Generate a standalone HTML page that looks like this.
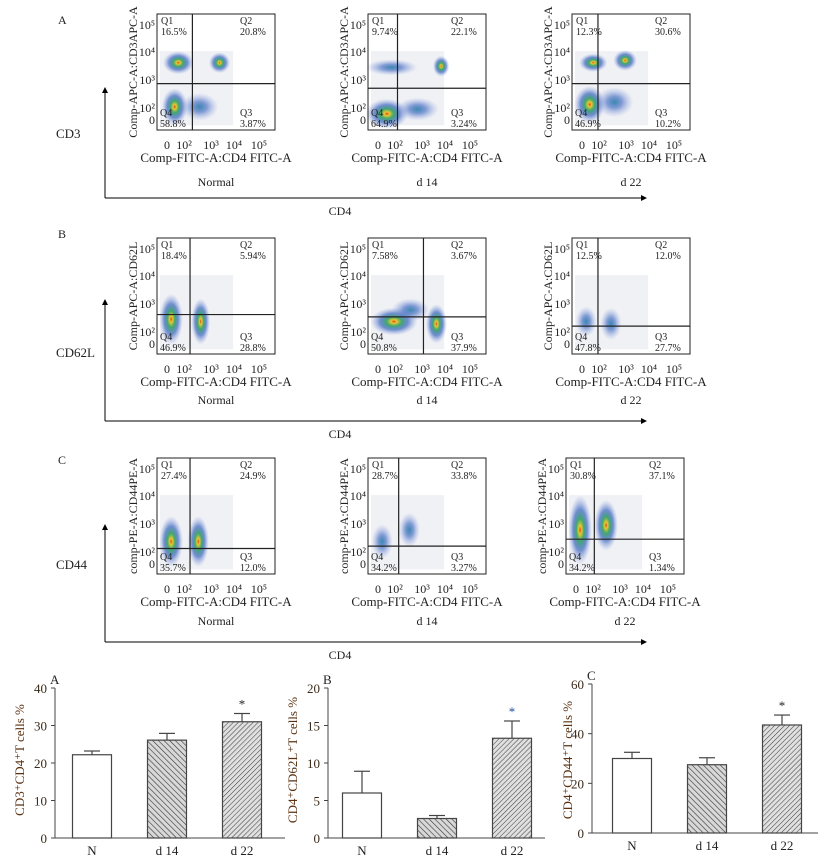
<!DOCTYPE html>
<html><head><meta charset="utf-8"><style>
body{margin:0;background:#fff;}
svg text{font-family:"Liberation Serif",serif;}
</style></head><body>
<svg id="fig" width="828" height="861" viewBox="0 0 828 861" xmlns="http://www.w3.org/2000/svg">
<defs>
<radialGradient id="blob" cx="50%" cy="50%" r="50%">
<stop offset="0%" stop-color="#e04020"/>
<stop offset="12%" stop-color="#e8c830"/>
<stop offset="32%" stop-color="#40a870"/>
<stop offset="60%" stop-color="#3a64c0" stop-opacity="0.7"/>
<stop offset="100%" stop-color="#8aa0dc" stop-opacity="0"/>
</radialGradient>
<radialGradient id="blobLow" cx="50%" cy="50%" r="50%">
<stop offset="0%" stop-color="#3a8ab0"/>
<stop offset="40%" stop-color="#3a64c0" stop-opacity="0.6"/>
<stop offset="100%" stop-color="#8aa0dc" stop-opacity="0"/>
</radialGradient>
<pattern id="hatchBack" width="4" height="4" patternUnits="userSpaceOnUse" patternTransform="rotate(-45)">
<rect width="4" height="4" fill="#d8d8d8"/><line x1="0" y1="0" x2="0" y2="4" stroke="#333" stroke-width="1.2"/>
</pattern>
<pattern id="hatchFwd" width="3.5" height="3.5" patternUnits="userSpaceOnUse" patternTransform="rotate(45)">
<rect width="4" height="4" fill="#e0e0e0"/><line x1="0" y1="0" x2="0" y2="4" stroke="#444" stroke-width="1.1"/>
</pattern>
<marker id="arr" markerWidth="6" markerHeight="6" refX="5" refY="3" orient="auto"><path d="M0,0 L6,3 L0,6 z" fill="#000"/></marker>
</defs>
</svg>
<script>
const NS="http://www.w3.org/2000/svg";
const svg=document.getElementById('fig');
function mk(tag,attrs,parent,text){const e=document.createElementNS(NS,tag);for(const k in attrs)e.setAttribute(k,attrs[k]);if(text!==undefined)e.textContent=text;(parent||svg).appendChild(e);return e;}

// ---------- Flow plots ----------
const plotLefts=[[157,368,572],[157,368,572],[157,368,566]];
const rowTops=[14,238,458];
const groupNames=['Normal','d 14','d 22'];
const yLabels=['Comp-APC-A:CD3APC-A','Comp-APC-A:CD62L','comp-PE-A:CD44PE-A'];
const quadVals=[
 [['16.5%','20.8%','3.87%','58.8%'],['9.74%','22.1%','3.24%','64.9%'],['12.3%','30.6%','10.2%','46.9%']],
 [['18.4%','5.94%','28.8%','46.9%'],['7.58%','3.67%','37.9%','50.8%'],['12.5%','12.0%','27.7%','47.8%']],
 [['27.4%','24.9%','12.0%','35.7%'],['28.7%','33.8%','3.27%','34.2%'],['30.8%','37.1%','1.34%','34.2%']]
];
const gates=[
 [[0.30,0.60],[0.25,0.64],[0.22,0.60]],
 [[0.28,0.66],[0.47,0.68],[0.22,0.76]],
 [[0.28,0.78],[0.26,0.76],[0.24,0.70]]
];
const clusters=[
 [[[0.18,0.42,0.13,0.10,1],[0.53,0.42,0.09,0.09,1],[0.15,0.80,0.11,0.16,1],[0.36,0.80,0.16,0.12,0]],
  [[0.20,0.46,0.22,0.07,0],[0.62,0.45,0.07,0.09,1],[0.16,0.86,0.18,0.13,1],[0.42,0.82,0.18,0.10,0]],
  [[0.18,0.42,0.12,0.08,1],[0.45,0.40,0.10,0.09,1],[0.15,0.78,0.13,0.16,1],[0.36,0.76,0.16,0.13,0]]],
 [[[0.12,0.70,0.10,0.22,1],[0.37,0.72,0.08,0.20,1]],
  [[0.22,0.72,0.20,0.12,1],[0.36,0.62,0.16,0.10,0],[0.58,0.74,0.09,0.17,1]],
  [[0.12,0.72,0.09,0.13,0],[0.33,0.74,0.09,0.14,0]]],
 [[[0.12,0.72,0.10,0.22,1],[0.35,0.72,0.09,0.22,1]],
  [[0.12,0.72,0.09,0.15,0],[0.35,0.62,0.09,0.15,0]],
  [[0.12,0.62,0.10,0.30,1],[0.34,0.58,0.10,0.22,1]]]
];
const W=118,H=116;
const xTickLbl=['0','10²','10³','10⁴','10⁵'];
const xTickPos=[10,27,54,77,102];
const yTickPos=[11,38,66,94,106];
const yTickLbl=['10⁵','10⁴','10³','10²','0'];
for(let r=0;r<3;r++){for(let c=0;c<3;c++){
 const x0=plotLefts[r][c], y0=rowTops[r];
 const g=mk('g',{});
 
 
 mk('rect',{x:x0+3,y:y0+H*0.32,width:W*0.62,height:H*0.64,fill:'#f0f1f5'},g);
 for(const cl of clusters[r][c]){
  mk('ellipse',{cx:x0+cl[0]*W,cy:y0+cl[1]*H,rx:cl[2]*W,ry:cl[3]*H,fill:cl[4]?'url(#blob)':'url(#blobLow)'},g);
 }
 mk('rect',{x:x0,y:y0,width:W,height:H,fill:'none',stroke:'#222','stroke-width':1},g);
 const vx=x0+gates[r][c][0]*W, hy=y0+gates[r][c][1]*H;
 const gv=mk('line',{x1:vx,y1:y0,x2:vx,y2:y0+H,stroke:'#222','stroke-width':1.2},g);
 
 const gh=mk('line',{x1:x0,y1:hy,x2:x0+W,y2:hy,stroke:'#222','stroke-width':1.2},g);
 
 const q=quadVals[r][c];
 const ts={'font-size':10,fill:'#222'};
 mk('text',Object.assign({x:x0+4,y:y0+10},ts),g,'Q1');
 mk('text',Object.assign({x:x0+4,y:y0+21},ts),g,q[0]);
 mk('text',Object.assign({x:x0+W-35,y:y0+10},ts),g,'Q2');
 mk('text',Object.assign({x:x0+W-35,y:y0+21},ts),g,q[1]);
 mk('text',Object.assign({x:x0+W-35,y:y0+H-14},ts),g,'Q3');
 mk('text',Object.assign({x:x0+W-35,y:y0+H-3},ts),g,q[2]);
 mk('text',Object.assign({x:x0+3,y:y0+H-14},ts),g,'Q4');
 mk('text',Object.assign({x:x0+3,y:y0+H-3},ts),g,q[3]);
 for(let i=0;i<5;i++){
  mk('text',{x:x0+xTickPos[i],y:y0+H+19,'font-size':12,'text-anchor':'middle',fill:'#222'},g,xTickLbl[i]);
  mk('text',{x:x0-2,y:y0+yTickPos[i]+4,'font-size':12,'text-anchor':'end',fill:'#222'},g,yTickLbl[i]);
 }
 mk('text',{x:x0+W/2,y:y0+H+32,'font-size':13,'text-anchor':'middle',fill:'#222'},g,'Comp-FITC-A:CD4 FITC-A');
 mk('text',{x:x0-20,y:y0+H/2,'font-size':12,'text-anchor':'middle',fill:'#222',transform:`rotate(-90 ${x0-20} ${y0+H/2})`},g,yLabels[r]);
 mk('text',{x:x0+W/2,y:y0+H+(r==0?56:r==1?50:51),'font-size':12,'text-anchor':'middle',fill:'#222'},g,groupNames[c]);
}}
const rowLetters=['A','B','C'];
const markerNames=['CD3','CD62L','CD44'];
const letterY=[24,238,464];
const arrowTop=[88,300,525], arrowBot=[198,421,642], markerY=[138,357,569];
for(let r=0;r<3;r++){
 mk('text',{x:58,y:letterY[r],'font-size':12,fill:'#222'},null,rowLetters[r]);
 const m=mk('text',{x:56,y:markerY[r],'font-size':13,fill:'#222'},null,markerNames[r]);
 
 mk('line',{x1:105,y1:arrowBot[r],x2:105,y2:arrowTop[r],stroke:'#000','stroke-width':1,'marker-end':'url(#arr)'});
 mk('line',{x1:105,y1:arrowBot[r],x2:646,y2:arrowBot[r],stroke:'#000','stroke-width':1,'marker-end':'url(#arr)'});
 mk('text',{x:340,y:arrowBot[r]+17,'font-size':12,'text-anchor':'middle',fill:'#222'},null,'CD4');
}

// ---------- Bar charts ----------
const barCats=['N','d 14','d 22'];
const cd3cd4Vals=[22.2,26.1,31.0];
const cd3cd4Err=[1.0,1.8,2.2];
const cd62Vals=[6.0,2.6,13.3];
const cd62Err=[2.9,0.4,2.3];
const cd44Vals=[30.0,27.5,43.5];
const cd44Err=[2.5,2.8,4.0];
const sig=[false,false,true];
const charts=[
 {name:'cd3-cd4-bar-chart',letter:'A',vals:cd3cd4Vals,err:cd3cd4Err,max:40,ticks:[0,10,20,30,40],ax:55,axEnd:285,top:688,bot:838,centers:[92,167,242],title:'CD3⁺CD4⁺T cells %',tx:24,titleCy:760},
 {name:'cd4-cd62l-bar-chart',letter:'B',vals:cd62Vals,err:cd62Err,max:20,ticks:[0,5,10,15,20],ax:328,axEnd:545,top:688,bot:838,centers:[362,437,512],title:'CD4⁺CD62L⁺T cells %',tx:297,titleCy:760},
 {name:'cd4-cd44-bar-chart',letter:'C',vals:cd44Vals,err:cd44Err,max:60,ticks:[0,20,40,60],ax:592,axEnd:818,top:684,bot:833,centers:[632,707,782],title:'CD4⁺CD44⁺T cells %',tx:572,titleCy:760}
];
const fills=['#fff','url(#hatchBack)','url(#hatchFwd)'];
for(const ch of charts){
 const g=mk('g',{});
 
 const yS=v=>ch.bot-(v/ch.max)*(ch.bot-ch.top);
 mk('text',{x:ch.ax-5,y:ch.top-4,'font-size':13,fill:'#222'},g,ch.letter);
 mk('line',{x1:ch.ax,y1:ch.top,x2:ch.ax,y2:ch.bot,stroke:'#444','stroke-width':1},g);
 mk('line',{x1:ch.ax,y1:ch.bot,x2:ch.axEnd,y2:ch.bot,stroke:'#444','stroke-width':1},g);
 for(const t of ch.ticks){
  mk('line',{x1:ch.ax-4,y1:yS(t),x2:ch.ax,y2:yS(t),stroke:'#444'},g);
  mk('text',{x:ch.ax-8,y:yS(t)+5,'font-size':13,'text-anchor':'end',fill:'#3a2a1a'},g,String(t));
 }
 mk('text',{x:ch.tx,y:ch.titleCy,'font-size':13,'text-anchor':'middle',fill:'#5a3010',transform:`rotate(-90 ${ch.tx} ${ch.titleCy})`},g,ch.title);
 for(let i=0;i<3;i++){
  const cx=ch.centers[i],v=ch.vals[i],e=ch.err[i];
  const b=mk('rect',{x:cx-19.5,y:yS(v),width:39,height:ch.bot-yS(v),fill:fills[i],stroke:'#444','stroke-width':1.2},g);
  
  mk('line',{x1:cx,y1:yS(v),x2:cx,y2:yS(v+e),stroke:'#444','stroke-width':1.2},g);
  mk('line',{x1:cx-8,y1:yS(v+e),x2:cx+8,y2:yS(v+e),stroke:'#444','stroke-width':1.2},g);
  if(sig[i]) mk('text',{x:cx,y:yS(v+e)-5,'font-size':13,'text-anchor':'middle',fill:ch.letter=='B'?'#2050a0':'#222'},g,'*');
  mk('text',{x:cx,y:ch.bot+17,'font-size':13,'text-anchor':'middle',fill:'#222'},g,barCats[i]);
 }
}
</script>
</body></html>
